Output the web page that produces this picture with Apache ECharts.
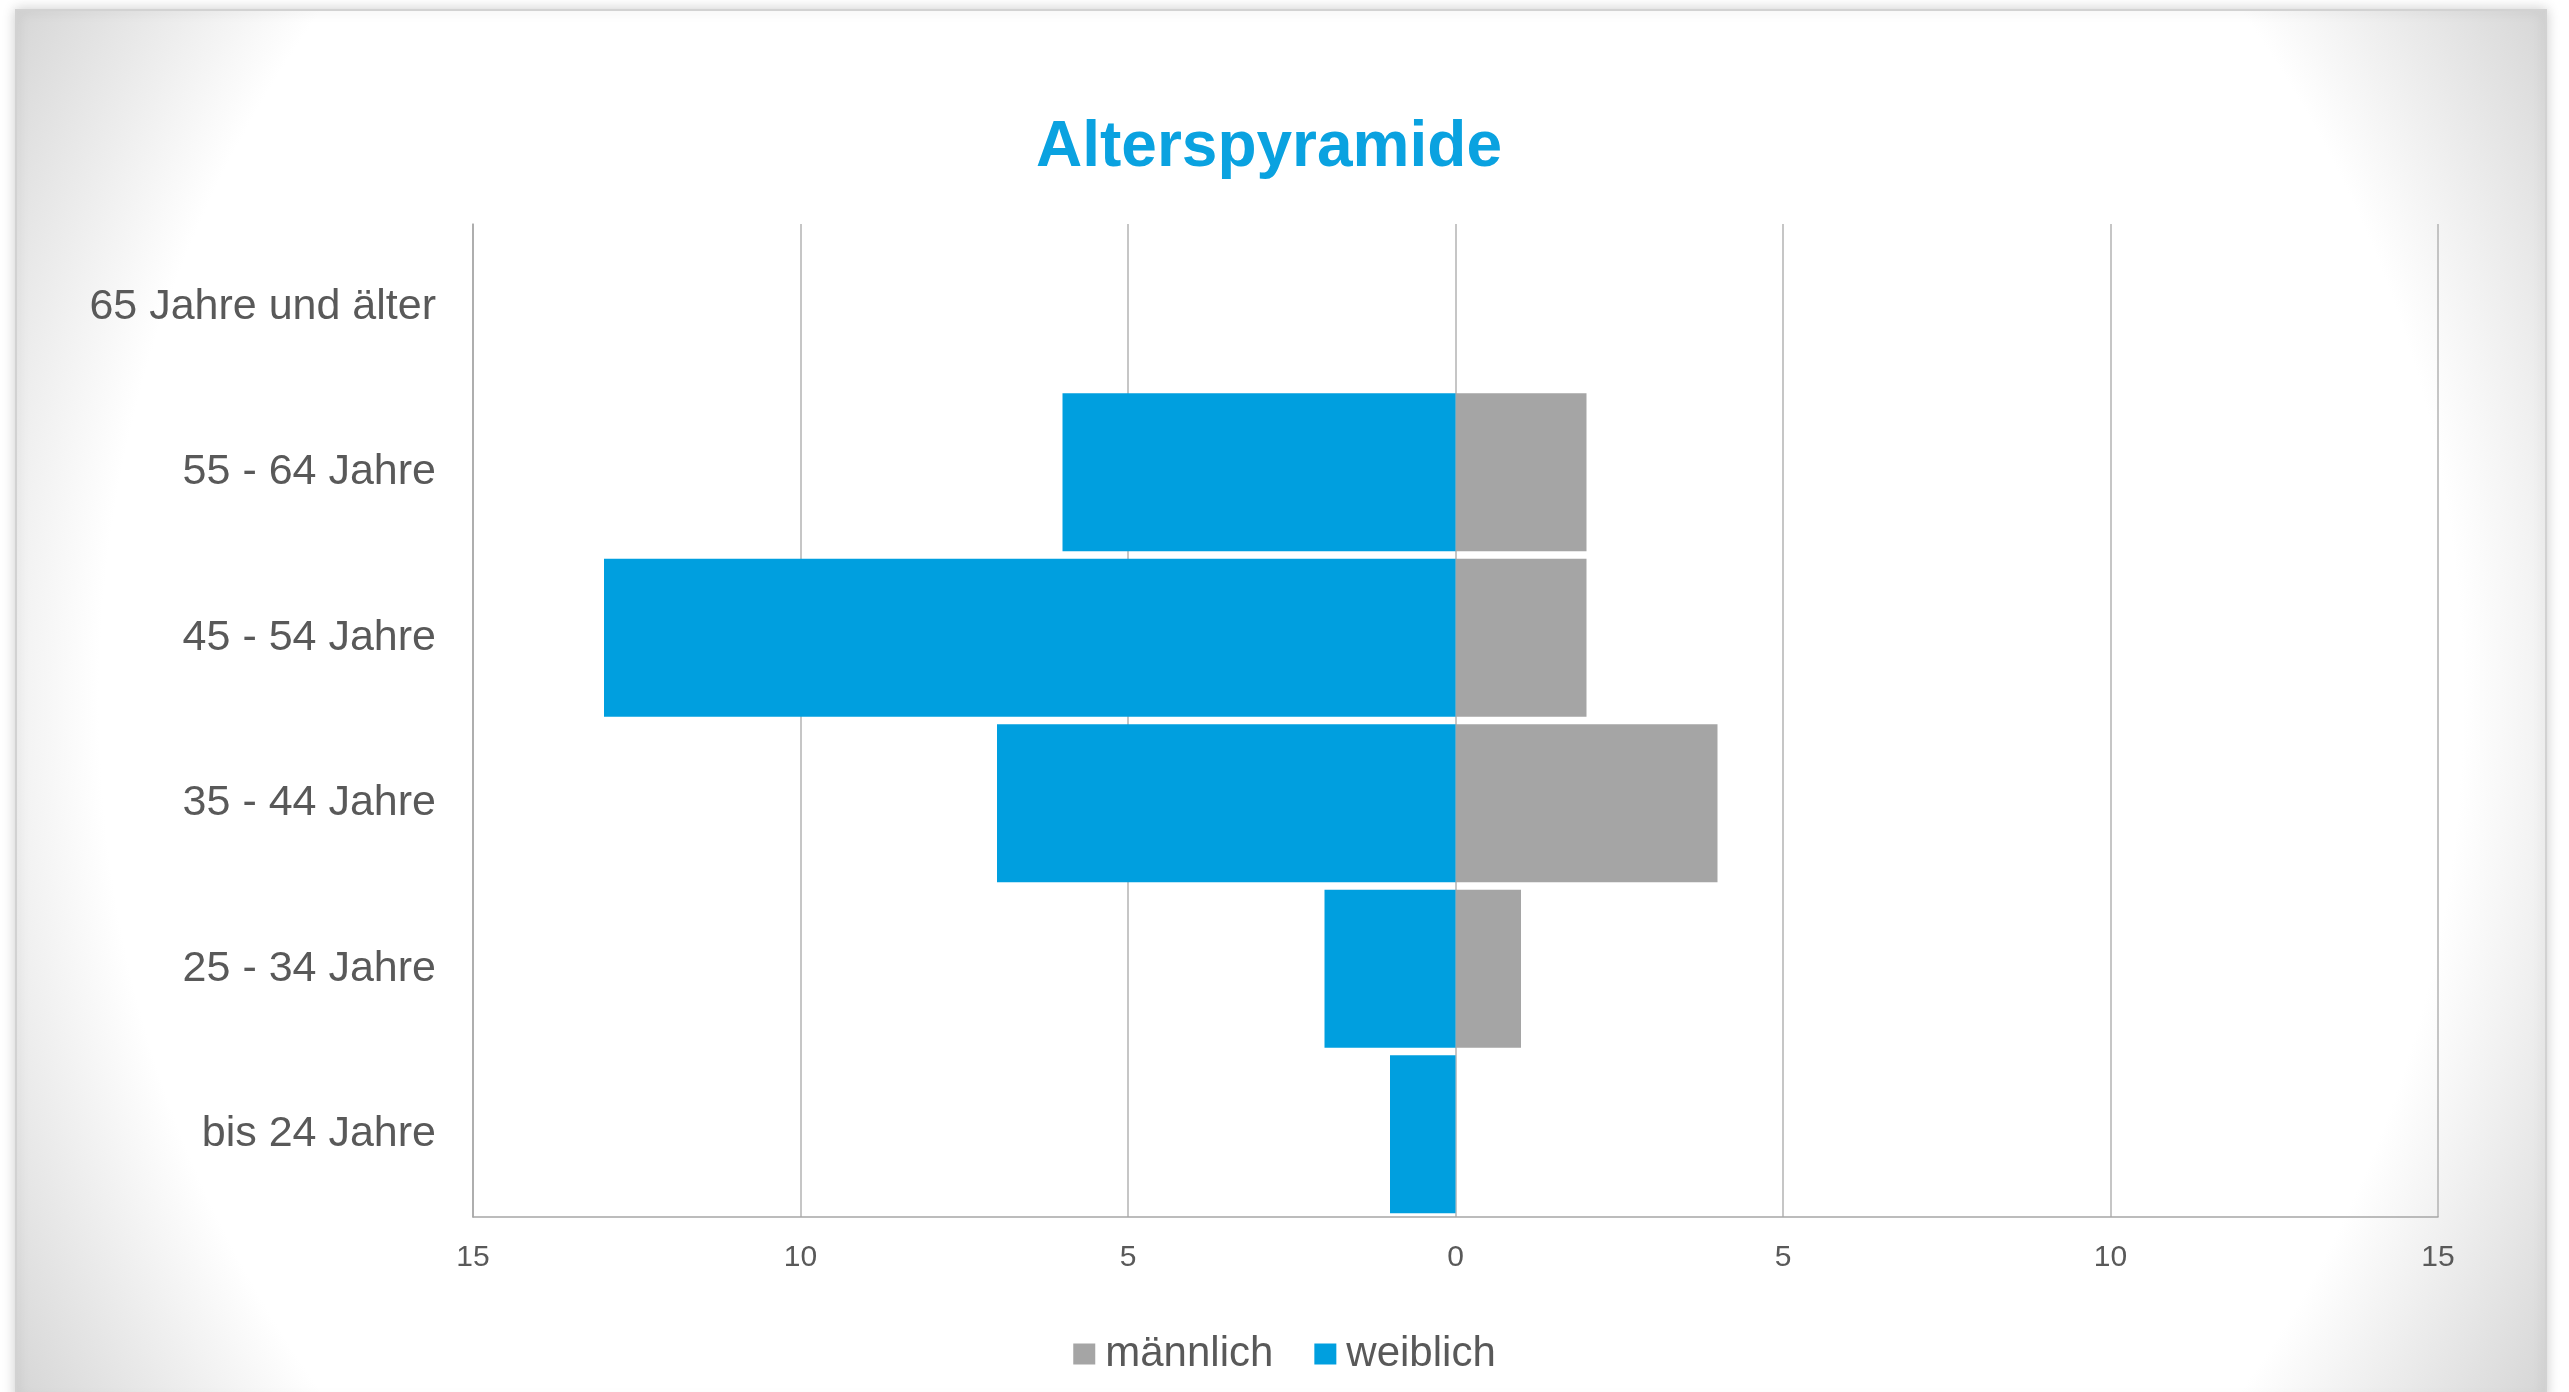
<!DOCTYPE html>
<html>
<head>
<meta charset="utf-8">
<script src="https://cdn.jsdelivr.net/npm/echarts@6/dist/echarts.min.js"></script>
<style>
  html, body { margin: 0; padding: 0; background: #ffffff; }
  #chart { width: 2569px; height: 1392px; }
</style>
</head>
<body>
<div id="chart"></div>
<script>
// ---- data ----
const categories = ['bis 24 Jahre', '25 - 34 Jahre', '35 - 44 Jahre', '45 - 54 Jahre', '55 - 64 Jahre', '65 Jahre und älter'];
const maennlich = [0, 1, 4, 2, 2, 0];
const weiblich = [1, 2, 7, 13, 6, 0];   // drawn to the left (negative side)
const seriesNames = ['männlich', 'weiblich'];
const titleText = 'Alterspyramide';

const FONT = "'Liberation Sans', Arial, sans-serif";
const chart = echarts.init(document.getElementById('chart'), null, { renderer: 'canvas' });

const cardX = 16, cardY = 10, cardW = 2546 - 16, cardH = 1400 - 10;
const cx = cardX + cardW / 2, cy = cardY + 691;
const rCorner = Math.sqrt(Math.pow(cardW / 2, 2) + Math.pow(691, 2));

chart.setOption({
  animation: false,
  backgroundColor: '#ffffff',
  graphic: {
    elements: [{
      type: 'rect',
      z: -10,
      silent: true,
      shape: { x: cardX, y: cardY, width: cardW, height: cardH },
      style: {
        fill: new echarts.graphic.RadialGradient(cx, cy, rCorner, [
          { offset: 0, color: '#ffffff' },
          { offset: 0.82, color: '#ffffff' },
          { offset: 1, color: '#d6d6d6' }
        ], true),
        stroke: '#d2d2d2',
        lineWidth: 2,
        shadowBlur: 12,
        shadowColor: 'rgba(0,0,0,0.18)'
      }
    }]
  },
  title: {
    text: titleText,
    left: 1269,
    top: 116,
    padding: 0,
    textAlign: 'center',
    textStyle: { fontFamily: FONT, fontSize: 64, fontWeight: 'bold', color: '#0aa2e0' }
  },
  legend: {
    data: seriesNames,
    left: 'center',
    top: 1328,
    itemWidth: 22,
    itemHeight: 21,
    itemGap: 41,
    icon: 'rect',
    textStyle: { fontFamily: FONT, fontSize: 42, color: '#595959', padding: [0, 0, 0, 5] }
  },
  grid: { left: 473, right: 131, top: 224, bottom: 175, containLabel: false },
  xAxis: {
    type: 'value',
    min: -15,
    max: 15,
    interval: 5,
    axisLine: { show: true, lineStyle: { color: '#a6a6a6', width: 1.5 } },
    axisTick: { show: false },
    splitLine: { show: true, lineStyle: { color: '#b3b3b3', width: 1.5 } },
    axisLabel: {
      margin: 26,
      fontFamily: FONT,
      fontSize: 30,
      color: '#595959',
      formatter: v => String(Math.abs(v))
    }
  },
  yAxis: {
    type: 'category',
    data: categories,
    axisLine: { show: true, onZero: false, lineStyle: { color: '#a6a6a6', width: 1.5 } },
    axisTick: { show: false },
    splitLine: { show: false },
    axisLabel: { margin: 37, fontFamily: FONT, fontSize: 43, color: '#595959', padding: [10, 0, 0, 0] }
  },
  series: [
    {
      name: seriesNames[0],
      type: 'bar',
      stack: 'pyr',
      barCategoryGap: '4.6%',
      itemStyle: { color: '#a5a5a5' },
      data: maennlich
    },
    {
      name: seriesNames[1],
      type: 'bar',
      stack: 'pyr',
      barCategoryGap: '4.6%',
      itemStyle: { color: '#009fdf' },
      data: weiblich.map(v => -v)
    }
  ]
});
</script>
</body>
</html>
